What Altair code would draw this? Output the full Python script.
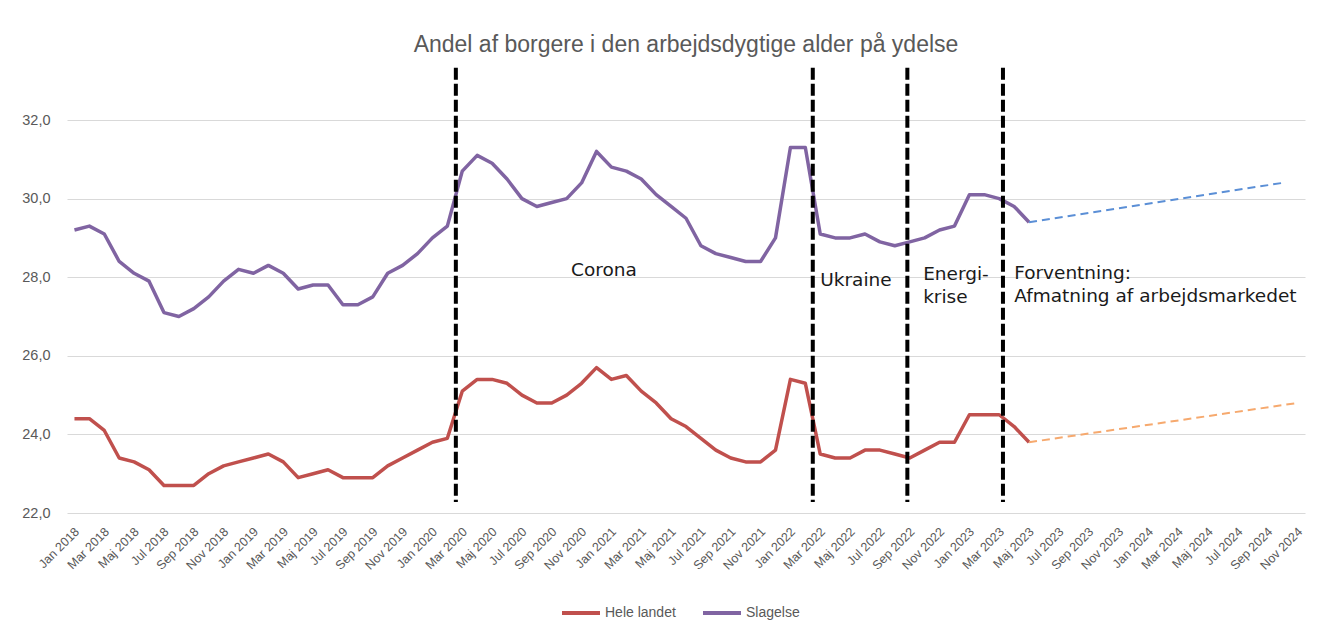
import altair as alt
import pandas as pd

# ---- data ----
month_names = ["Jan", "Feb", "Mar", "Apr", "Maj", "Jun", "Jul", "Aug", "Sep", "Okt", "Nov", "Dec"]
months = [f"{month_names[m]} {y}" for y in range(2018, 2025) for m in range(12)][:83]  # Jan 2018 .. Nov 2024

hele_landet = [
    24.4, 24.4, 24.1, 23.4, 23.3, 23.1, 22.7, 22.7, 22.7, 23.0, 23.2, 23.3,
    23.4, 23.5, 23.3, 22.9, 23.0, 23.1, 22.9, 22.9, 22.9, 23.2, 23.4, 23.6,
    23.8, 23.9, 25.1, 25.4, 25.4, 25.3, 25.0, 24.8, 24.8, 25.0, 25.3, 25.7,
    25.4, 25.5, 25.1, 24.8, 24.4, 24.2, 23.9, 23.6, 23.4, 23.3, 23.3, 23.6,
    25.4, 25.3, 23.5, 23.4, 23.4, 23.6, 23.6, 23.5, 23.4, 23.6, 23.8, 23.8,
    24.5, 24.5, 24.5, 24.2, 23.8,
]
slagelse = [
    29.2, 29.3, 29.1, 28.4, 28.1, 27.9, 27.1, 27.0, 27.2, 27.5, 27.9, 28.2,
    28.1, 28.3, 28.1, 27.7, 27.8, 27.8, 27.3, 27.3, 27.5, 28.1, 28.3, 28.6,
    29.0, 29.3, 30.7, 31.1, 30.9, 30.5, 30.0, 29.8, 29.9, 30.0, 30.4, 31.2,
    30.8, 30.7, 30.5, 30.1, 29.8, 29.5, 28.8, 28.6, 28.5, 28.4, 28.4, 29.0,
    31.3, 31.3, 29.1, 29.0, 29.0, 29.1, 28.9, 28.8, 28.9, 29.0, 29.2, 29.3,
    30.1, 30.1, 30.0, 29.8, 29.4,
]

# forecast trend lines (month index, value)
fc_slagelse_idx = [64, 81]
fc_slagelse_val = [29.4, 30.4]
fc_hele_idx = [64, 82]
fc_hele_val = [23.8, 24.8]

# period separators (month index, between months)
separators = [25.57, 49.5, 55.84, 62.25]

# annotations
ann_text = ["Corona", "Ukraine", "Energi-", "krise", "Forventning:", "Afmatning af arbejdsmarkedet"]
ann_idx = [35.5, 50.0, 56.9, 56.9, 63.0, 63.0]
ann_val = [28.18, 27.93, 28.08, 27.50, 28.10, 27.52]
ann_align = ["center", "left", "left", "left", "left", "left"]

TITLE = "Andel af borgere i den arbejdsdygtige alder på ydelse"

# ---- frames ----
series = pd.DataFrame(
    [{"idx": i, "value": v, "serie": "Hele landet"} for i, v in enumerate(hele_landet)]
    + [{"idx": i, "value": v, "serie": "Slagelse"} for i, v in enumerate(slagelse)]
)
fc_s = pd.DataFrame({"idx": fc_slagelse_idx, "value": fc_slagelse_val})
fc_h = pd.DataFrame({"idx": fc_hele_idx, "value": fc_hele_val})
sep = pd.DataFrame({"idx": separators, "top": [33.33] * len(separators), "bottom": [22.28] * len(separators)})
ann = pd.DataFrame({"text": ann_text, "idx": ann_idx, "value": ann_val, "align": ann_align})

label_array = "[" + ",".join(f"'{m}'" for m in months) + "]"

x_scale = alt.Scale(domain=[-0.5, 82.5], nice=False, zero=False)
y_scale = alt.Scale(domain=[22, 32], nice=False, zero=False)

x_axis = alt.Axis(
    values=list(range(0, 83, 2)),
    labelExpr=f"{label_array}[datum.value]",
    labelAngle=-45,
    labelAlign="right",
    labelBaseline="top",
    labelOffset=-2,
    labelPadding=12,
    labelFont="Liberation Sans",
    labelFontSize=12.5,
    labelColor="#595959",
    grid=False,
    ticks=False,
    domain=False,
    title=None,
    labelOverlap=False,
    labelBound=False,
    labelFlush=False,
)
y_axis = alt.Axis(
    values=[22, 24, 26, 28, 30, 32],
    labelExpr="replace(format(datum.value, '.1f'), '.', ',')",
    labelFont="Liberation Sans",
    labelFontSize=14.5,
    labelColor="#595959",
    labelPadding=17,
    grid=True,
    gridColor="#D9D9D9",
    gridWidth=1,
    ticks=False,
    domain=False,
    title=None,
)

X = alt.X("idx:Q", scale=x_scale, axis=x_axis)
Y = alt.Y("value:Q", scale=y_scale, axis=y_axis)

lines = alt.Chart(series).mark_line(strokeWidth=3.5, strokeJoin="round").encode(
    x=X,
    y=Y,
    color=alt.Color(
        "serie:N",
        scale=alt.Scale(domain=["Hele landet", "Slagelse"], range=["#C0504D", "#8064A2"]),
        legend=alt.Legend(
            title=None,
            orient="none",
            direction="horizontal",
            legendX=493,
            legendY=472,
            symbolType="stroke",
            symbolSize=1444,
            symbolStrokeWidth=4,
            labelFont="Liberation Sans",
            labelFontSize=14,
            labelColor="#595959",
            labelOffset=3,
            columnPadding=19,
            padding=0,
        ),
    ),
)

fc1 = alt.Chart(fc_s).mark_line(strokeWidth=2, strokeDash=[8, 5], color="#5B8FD6").encode(x=X, y=Y)
fc2 = alt.Chart(fc_h).mark_line(strokeWidth=2, strokeDash=[8, 5], color="#F6A96E").encode(x=X, y=Y)

rules = alt.Chart(sep).mark_rule(strokeWidth=4, strokeDash=[12, 4], color="black").encode(
    x=X,
    y=alt.Y("top:Q", scale=y_scale, axis=y_axis),
    y2="bottom:Q",
)

texts = []
for al in ["center", "left"]:
    texts.append(
        alt.Chart(ann[ann["align"] == al]).mark_text(
            align=al, baseline="middle", font="DejaVu Sans", fontSize=18.5, color="#1a1a1a"
        ).encode(x=X, y=Y, text="text:N")
    )

chart = alt.layer(lines, fc1, fc2, rules, *texts).properties(
    width=1238,
    height=393,
    padding={"left": 59, "top": 112, "right": 18, "bottom": 112},
    autosize=alt.AutoSizeParams(type="none"),
    title=alt.TitleParams(
        TITLE,
        font="Liberation Sans",
        fontSize=23,
        fontWeight="normal",
        color="#595959",
        anchor="middle",
        frame="group",
        offset=9,
    ),
).configure_view(stroke=None)

chart.save("out.html", embed_options={"renderer": "svg", "actions": False})
